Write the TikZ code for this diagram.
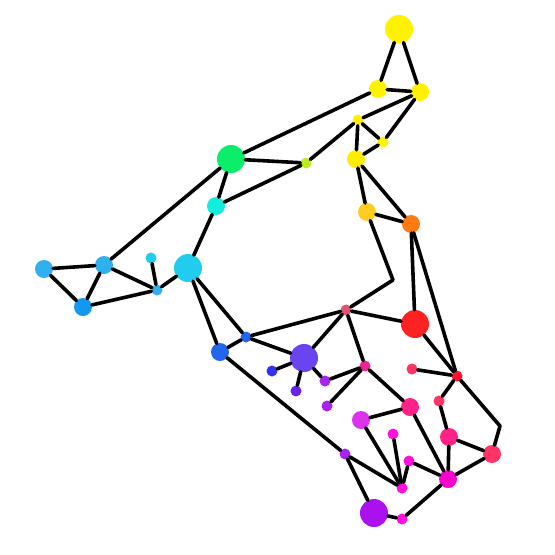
\documentclass[tikz,border=0pt]{standalone}
\definecolor{cyel}{HTML}{FFF200}
\definecolor{cyel2}{HTML}{FFEE00}
\definecolor{clime}{HTML}{BBEE22}
\definecolor{cgreen}{HTML}{0AEE6A}
\definecolor{caqua}{HTML}{11EEDD}
\definecolor{cgold}{HTML}{FFCC22}
\definecolor{corange}{HTML}{FF7A11}
\definecolor{csky}{HTML}{22CCEE}
\definecolor{cblueA}{HTML}{30B0EE}
\definecolor{cblueB}{HTML}{1199EE}
\definecolor{cblueC}{HTML}{2266EE}
\definecolor{cblueD}{HTML}{3333EE}
\definecolor{cviolet}{HTML}{6A44EE}
\definecolor{cviolB}{HTML}{6622EE}
\definecolor{cpurple}{HTML}{AA22EE}
\definecolor{crose}{HTML}{DD5577}
\definecolor{cred}{HTML}{FF2222}
\definecolor{cred2}{HTML}{FF1133}
\definecolor{cpinkred}{HTML}{FF3366}
\definecolor{cpink}{HTML}{EE2299}
\definecolor{cpink2}{HTML}{FF2288}
\definecolor{cmag}{HTML}{FF11DD}
\definecolor{cmag2}{HTML}{FF00CC}
\definecolor{corchid}{HTML}{DD33EE}
\definecolor{cviolC}{HTML}{AA11EE}
\begin{document}
\begin{tikzpicture}[x=1pt, y=-1pt,
  vx/.style={circle, inner sep=0pt, fill=#1},
  big/.style={minimum size=28pt},
  mid/.style={minimum size=18pt},
  sml/.style={minimum size=11pt},
  link/.style={draw, line width=3.6pt, line cap=round, line join=round}]
\useasboundingbox (0,0) rectangle (555,555);

% top
\node (Y1) [vx=cyel, big] at (399,29) {};
\node (Y2) [vx=cyel, mid] at (378,89) {};
\node (Y3) [vx=cyel, mid] at (420,92) {};
\node (Y4) [vx=cyel, sml] at (358,120) {};
\node (Y5) [vx=cyel, sml] at (383,142) {};
\node (Y6) [vx=cyel2, mid] at (356,159) {};
\node (G1) [vx=cgreen, big] at (231,159) {};
\node (LG) [vx=clime, sml] at (306,163) {};
\node (C1) [vx=caqua, mid] at (216,206) {};
\node (GO) [vx=cgold, mid] at (367,212) {};
\node (OR) [vx=corange, mid] at (411,224) {};

% left
\node (B1) [vx=csky, big] at (188,268) {};
\node (B2) [vx=cblueA, mid] at (104,265) {};
\node (B3) [vx=cblueA, mid] at (44,269) {};
\node (B4) [vx=cblueB, mid] at (83,307) {};
\node (B5) [vx=csky, sml] at (151,258) {};
\node (B6) [vx=cblueA, sml] at (157,290) {};

% middle
\node (RP) [vx=crose, sml] at (346,310) {};
\node (R1) [vx=cred, big] at (415,324) {};
\node (D1) [vx=cblueC, sml] at (246,337) {};
\node (D2) [vx=cblueC, mid] at (220,352) {};
\node (V1) [vx=cviolet, big] at (304,358) {};
\node (V2) [vx=cblueD, sml] at (272,371) {};
\node (V3) [vx=cpurple, sml] at (325,381) {};
\node (V4) [vx=cviolB, sml] at (296,391) {};
\node (V5) [vx=cpurple, sml] at (327,406) {};
\node (P1) [vx=cpink, sml] at (365,366) {};
\node (R2) [vx=cpinkred, sml] at (412,369) {};
\node (R3) [vx=cred2, sml] at (457,376) {};

% bottom
\node (P2) [vx=cpink2, mid] at (410,407) {};
\node (R4) [vx=cpinkred, sml] at (439,401) {};
\node (M1) [vx=corchid, mid] at (361,420) {};
\node (M2) [vx=cmag, sml] at (393,434) {};
\node (P3) [vx=cpink2, mid] at (449,437) {};
\node (R5) [vx=cpinkred, mid] at (492,454) {};
\node (V6) [vx=cpurple, sml] at (345,454) {};
\node (M3) [vx=cmag, sml] at (409,461) {};
\node (M4) [vx=cmag, sml] at (402,488) {};
\node (M5) [vx=cmag2, mid] at (448,479) {};
\node (V7) [vx=cviolC, big] at (374,513) {};
\node (M6) [vx=cmag, sml] at (402,519) {};

\coordinate (k1) at (393,280);
\coordinate (k2) at (500,426);

\path [link] (Y1) edge (Y2) edge (Y3);
\path [link] (Y2) edge (Y3) edge (G1);
\path [link] (Y3) edge (Y4) edge (Y5);
\path [link] (Y4) edge (Y5) edge (Y6) edge (LG);
\path [link] (Y5) edge (Y6);
\path [link] (LG) edge (G1) edge (C1);
\path [link] (G1) edge (C1) edge (B2);
\path [link] (Y6) edge (GO) edge (OR);
\path [link] (GO) edge (OR);
\draw [link] (GO) -- (k1) -- (RP);
\path [link] (OR) edge (R1) edge (R3);
\path [link] (R1) edge (R3) edge (RP);
\path [link] (R3) edge (R2) edge (R4);
\draw [link] (R3) -- (k2) -- (R5);
\path [link] (P3) edge (R4) edge (R5) edge (M5);
\path [link] (M5) edge (R5) edge (P2) edge (M3) edge (M6);
\path [link] (V7) edge (M6) edge (V6);
\path [link] (M4) edge (V6) edge (M1) edge (M2) edge (M3);
\path [link] (M1) edge (P2);
\path [link] (P1) edge (P2) edge (RP) edge (V3) edge (V5);
\path [link] (RP) edge (D1) edge (V1);
\path [link] (V1) edge (D1) edge (V2) edge (V4) edge (V3);
\path [link] (D2) edge (D1) edge (B1) edge (V6);
\path [link] (B1) edge (D1) edge (C1) edge (B6);
\path [link] (B6) edge (B5) edge (B2) edge (B4);
\path [link] (B2) edge (B4) edge (B3);
\path [link] (B3) edge (B4);
\end{tikzpicture}
\end{document}
